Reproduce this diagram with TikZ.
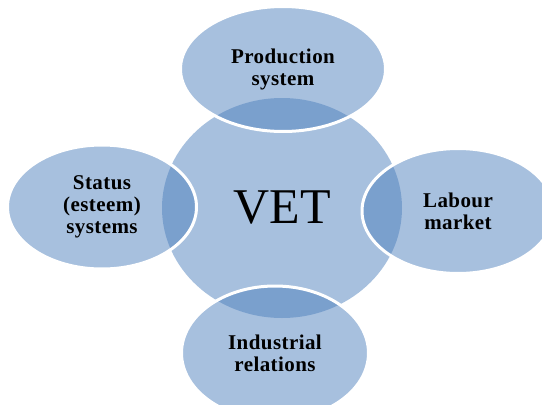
\documentclass[tikz,border=0pt]{standalone}
\usepackage{fontspec}
\setmainfont{Liberation Serif}
\newfontfamily\labelfont[LetterSpace=2]{Liberation Serif}
\usetikzlibrary{shapes.geometric}
\definecolor{vetblue}{HTML}{4F81BD}
\tikzset{
  hub/.style={shape=ellipse, fill=vetblue, fill opacity=0.5, text opacity=1, inner sep=0pt,
    minimum width=240pt, minimum height=220pt, font=\fontsize{50}{55}\selectfont},
  part/.style={shape=ellipse, fill=vetblue, fill opacity=0.5, text opacity=1, draw=white,
    draw opacity=1, line width=3pt, inner sep=0pt, align=center,
    font=\labelfont\bfseries\fontsize{21}{22}\selectfont}
}
\begin{document}
\begin{tikzpicture}[x=1pt,y=-1pt]
  \useasboundingbox (0,0) rectangle (542,405);
  \node[hub] (vet) at (282,208) {VET};
  \node[part, minimum width=205pt, minimum height=125pt] (prod) at (283,69) {Production\\system};
  \node[part, minimum width=189pt, minimum height=124pt] (status) at (102,207) {Status\\(esteem)\\systems};
  \node[part, minimum width=192pt, minimum height=125pt] (labour) at (458,211) {Labour\\market};
  \node[part, minimum width=187pt, minimum height=134pt] (ind) at (275,353) {Industrial\\relations};
\end{tikzpicture}
\end{document}
